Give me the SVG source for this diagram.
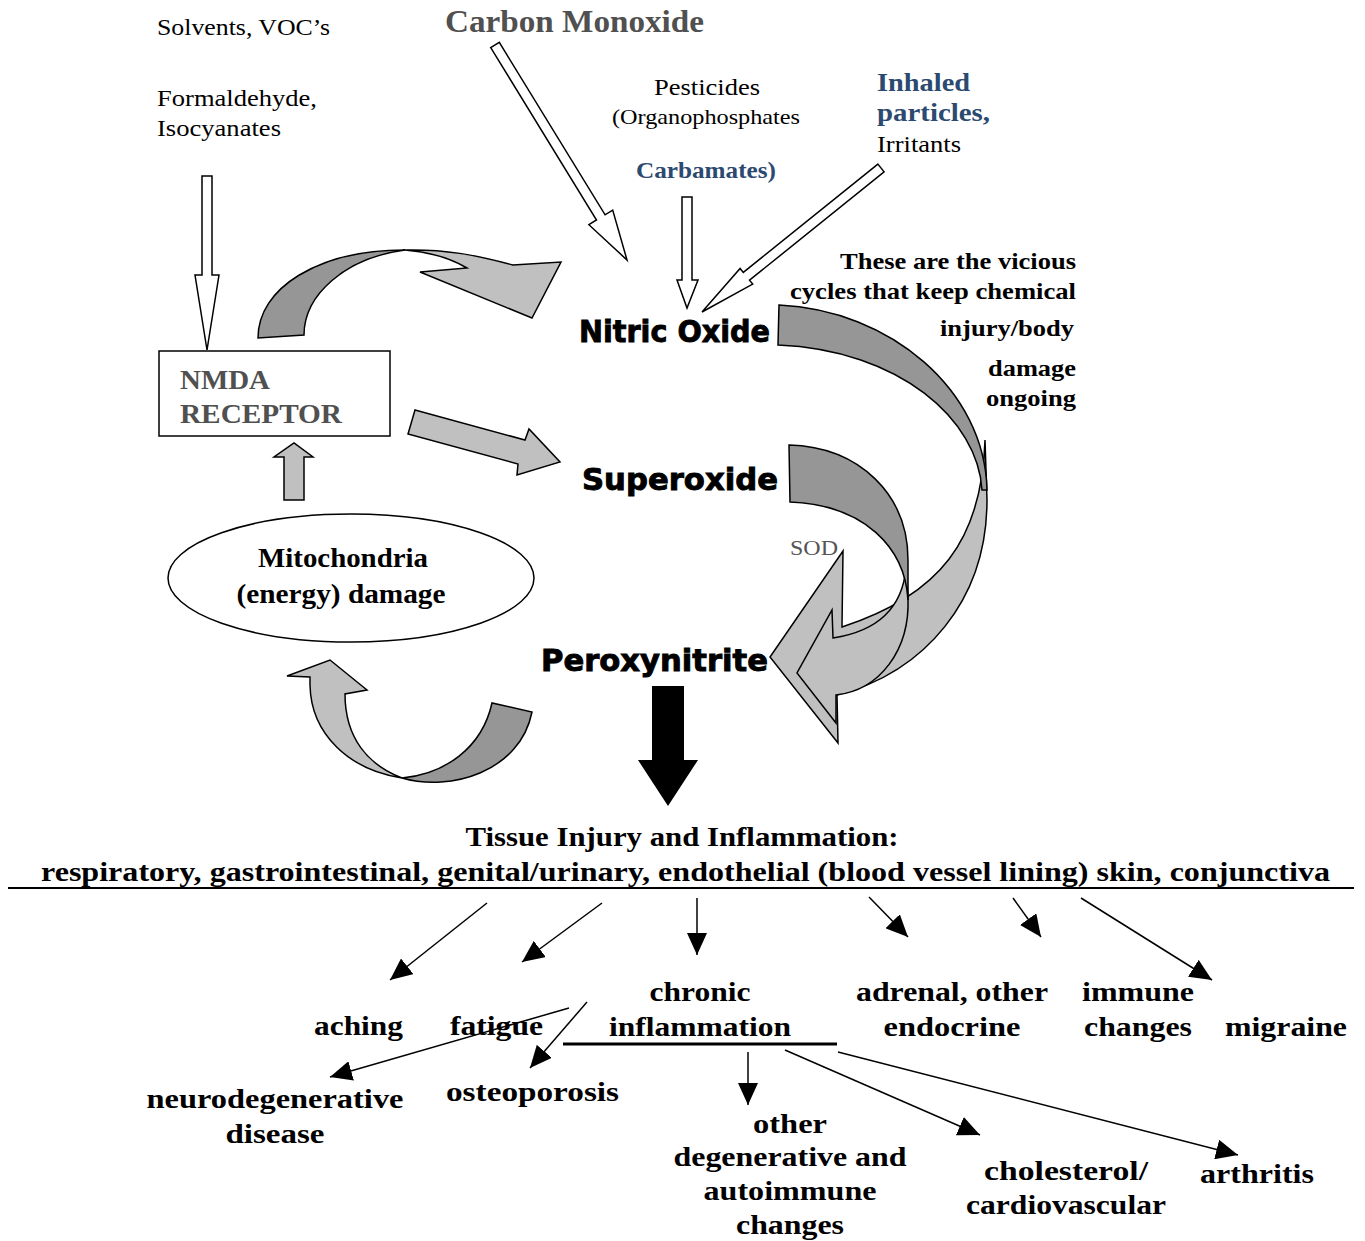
<svg xmlns="http://www.w3.org/2000/svg" width="1365" height="1241" viewBox="0 0 1365 1241">
<style>
.s{font-family:"Liberation Serif",serif;fill:#000}
.b{font-weight:bold}
.h{font-family:"DejaVu Sans",sans-serif;font-weight:bold;font-size:30px;fill:#000;stroke:#000;stroke-width:0.9}
.bt{font-family:"Liberation Serif",serif;font-weight:bold;font-size:28px;fill:#000}
.blue{fill:#2c4a70}
.gr{fill:#505050}
.dk{fill:#969696;stroke:#000;stroke-width:1.5;stroke-linejoin:miter}
.lt{fill:#c0c0c0;stroke:#000;stroke-width:1.5;stroke-linejoin:miter}
.ho{fill:#fff;stroke:#000;stroke-width:1.5}
.ln{stroke:#000;stroke-width:1.5;fill:none;marker-end:url(#ah)}
</style>
<defs>
<marker id="ah" viewBox="0 0 22 20" refX="22" refY="10" markerWidth="22" markerHeight="20" orient="auto" markerUnits="userSpaceOnUse"><path d="M0,0 L22,10 L0,20 Z" fill="#000"/></marker>
</defs>
<rect width="1365" height="1241" fill="#fff"/>

<g id="sources">
<text class="s" x="157" y="35" font-size="23" textLength="173" lengthAdjust="spacingAndGlyphs">Solvents, VOC’s</text>
<text class="s" x="157" y="106" font-size="23" textLength="160" lengthAdjust="spacingAndGlyphs">Formaldehyde,</text>
<text class="s" x="157" y="136" font-size="23" textLength="124" lengthAdjust="spacingAndGlyphs">Isocyanates</text>
<text class="s b gr" x="445" y="32" font-size="31" textLength="259" lengthAdjust="spacingAndGlyphs">Carbon Monoxide</text>
<text class="s" x="654" y="95" font-size="23" textLength="106" lengthAdjust="spacingAndGlyphs">Pesticides</text>
<text class="s" x="612" y="124" font-size="21" textLength="188" lengthAdjust="spacingAndGlyphs">(Organophosphates</text>
<text class="s b blue" x="636" y="178" font-size="23" textLength="140" lengthAdjust="spacingAndGlyphs">Carbamates)</text>
<text class="s b blue" x="877" y="91" font-size="25" textLength="93" lengthAdjust="spacingAndGlyphs">Inhaled</text>
<text class="s b blue" x="877" y="121" font-size="25" textLength="113" lengthAdjust="spacingAndGlyphs">particles,</text>
<text class="s" x="877" y="152" font-size="23" textLength="84" lengthAdjust="spacingAndGlyphs">Irritants</text>
</g>

<g id="note">
<text class="s b" x="1076" y="269" font-size="23" text-anchor="end" textLength="236" lengthAdjust="spacingAndGlyphs">These are the vicious</text>
<text class="s b" x="1076" y="299" font-size="23" text-anchor="end" textLength="286" lengthAdjust="spacingAndGlyphs">cycles that keep chemical</text>
<text class="s b" x="1074" y="336" font-size="23" text-anchor="end" textLength="134" lengthAdjust="spacingAndGlyphs">injury/body</text>
<text class="s b" x="1076" y="376" font-size="23" text-anchor="end" textLength="88" lengthAdjust="spacingAndGlyphs">damage</text>
<text class="s b" x="1076" y="406" font-size="23" text-anchor="end" textLength="90" lengthAdjust="spacingAndGlyphs">ongoing</text>
</g>

<g id="nmda">
<rect x="159" y="351" width="231" height="85" fill="#fff" stroke="#000" stroke-width="1.5"/>
<text class="s b gr" x="180" y="389" font-size="28" textLength="90" lengthAdjust="spacingAndGlyphs">NMDA</text>
<text class="s b gr" x="180" y="423" font-size="28" textLength="162" lengthAdjust="spacingAndGlyphs">RECEPTOR</text>
</g>

<g id="mitochondria">
<ellipse cx="351" cy="578" rx="183" ry="64" fill="#fff" stroke="#000" stroke-width="1.5"/>
<text class="s b" x="343" y="567" font-size="27" text-anchor="middle" textLength="170" lengthAdjust="spacingAndGlyphs">Mitochondria</text>
<text class="s b" x="341" y="603" font-size="27" text-anchor="middle" textLength="209" lengthAdjust="spacingAndGlyphs">(energy) damage</text>
</g>

<g id="nitric-oxide"><text class="h" x="579" y="342" textLength="191" lengthAdjust="spacingAndGlyphs">Nitric Oxide</text></g>
<g id="superoxide"><text class="h" x="582" y="490" font-size="31" textLength="196" lengthAdjust="spacingAndGlyphs">Superoxide</text></g>
<g id="peroxynitrite"><text class="h" x="541" y="671" font-size="31" textLength="227" lengthAdjust="spacingAndGlyphs">Peroxynitrite</text></g>
<g id="sod"><text class="s" x="790" y="555" font-size="21" style="fill:#555" textLength="48" lengthAdjust="spacingAndGlyphs">SOD</text></g>

<g id="connectors">
<polygon class="ho" points="202,176 212,176 212,275 219,275 207,350 195,275 202,275"/>
<polygon class="ho" points="490.7,47.6 499.3,42.4 605.1,214.8 612.7,210.1 627,260 588.9,224.7 596.5,220"/>
<polygon class="ho" points="682,197 692,197 692,280 698,280 687,308 677,280 682,280"/>
<polygon class="ho" points="877.9,164.1 884.1,171.9 749.5,280.2 752.7,284.1 702,312 740.1,268.5 743.3,272.4"/>

<path class="lt" d="M405,250 C445,249 475,255 513,265 L561,262 L532,318 L420,272 L467,268 C450,258 430,252 405,250 Z"/>
<path class="dk" d="M258,338 C258,288 318,250 405,250 C345,258 304,295 304,335 Z"/>

<polygon class="lt" points="415,410 525,440 529,429 560,462 517,475 518,464 408,434"/>

<polygon class="lt" points="284,500 284,457 274,457 294,443 313,457 304,457 304,500"/>

<path class="lt" d="M985,440 C982,540 940,595 842,627 L843,551 L770,657 L838,743 L837,695 C925,672 987,600 987,500 Z"/>
<path class="dk" d="M779,305 C890,310 985,390 987,490 L982,490 C978,420 900,350 778,345 Z"/>

<path class="lt" d="M906,568 C902,612 872,632 833,638 L832,610 L797,673 L836,723 L836,695 C880,690 910,650 908,598 Z"/>
<path class="dk" d="M789,445 C860,447 908,495 908,560 L908,600 C905,548 865,505 790,502 Z"/>

<path class="lt" d="M402,778 C350,770 311,735 310,685 L310,677 L287,676 L330,660 L367,690 L345,694 C345,738 368,765 402,778 Z"/>
<path class="dk" d="M492,703 C482,748 445,774 402,778 C450,792 520,772 532,712 Z"/>

<polygon points="652,686 684,686 684,760 698,760 668,806 638,760 652,760" fill="#000"/>

<line x1="8" y1="888" x2="1354" y2="888" stroke="#000" stroke-width="2"/>
<line x1="563" y1="1044" x2="837" y2="1044" stroke="#000" stroke-width="3"/>
<line class="ln" x1="487" y1="903" x2="390" y2="980"/>
<line class="ln" x1="602" y1="903" x2="522" y2="962"/>
<line class="ln" x1="697" y1="898" x2="697" y2="955"/>
<line class="ln" x1="869" y1="897" x2="908" y2="937"/>
<line class="ln" x1="1013" y1="898" x2="1041" y2="937"/>
<line class="ln" x1="1081" y1="898" x2="1212" y2="980"/>
<line class="ln" x1="569" y1="1008" x2="330" y2="1077"/>
<line class="ln" x1="587" y1="1002" x2="530" y2="1068"/>
<line class="ln" x1="748" y1="1052" x2="748" y2="1105"/>
<line class="ln" x1="785" y1="1050" x2="980" y2="1135"/>
<line class="ln" x1="838" y1="1052" x2="1238" y2="1155"/>
</g>

<g id="tissue">
<text class="bt" x="682" y="846" text-anchor="middle" textLength="433" lengthAdjust="spacingAndGlyphs">Tissue Injury and Inflammation:</text>
<text class="bt" x="41" y="881" textLength="1289" lengthAdjust="spacingAndGlyphs">respiratory, gastrointestinal, genital/urinary, endothelial (blood vessel lining) skin, conjunctiva</text>
</g>
<g id="aching"><text class="bt" x="314" y="1035" textLength="89" lengthAdjust="spacingAndGlyphs">aching</text></g>
<g id="fatigue"><text class="bt" x="450" y="1035" textLength="93" lengthAdjust="spacingAndGlyphs">fatigue</text></g>
<g id="chronic">
<text class="bt" x="700" y="1001" text-anchor="middle" textLength="101" lengthAdjust="spacingAndGlyphs">chronic</text>
<text class="bt" x="700" y="1036" text-anchor="middle" textLength="182" lengthAdjust="spacingAndGlyphs">inflammation</text>
</g>
<g id="adrenal">
<text class="bt" x="952" y="1001" text-anchor="middle" textLength="192" lengthAdjust="spacingAndGlyphs">adrenal, other</text>
<text class="bt" x="952" y="1036" text-anchor="middle" textLength="137" lengthAdjust="spacingAndGlyphs">endocrine</text>
</g>
<g id="immune">
<text class="bt" x="1138" y="1001" text-anchor="middle" textLength="112" lengthAdjust="spacingAndGlyphs">immune</text>
<text class="bt" x="1138" y="1036" text-anchor="middle" textLength="108" lengthAdjust="spacingAndGlyphs">changes</text>
</g>
<g id="migraine"><text class="bt" x="1225" y="1036" textLength="122" lengthAdjust="spacingAndGlyphs">migraine</text></g>
<g id="neuro">
<text class="bt" x="275" y="1108" text-anchor="middle" textLength="257" lengthAdjust="spacingAndGlyphs">neurodegenerative</text>
<text class="bt" x="275" y="1143" text-anchor="middle" textLength="99" lengthAdjust="spacingAndGlyphs">disease</text>
</g>
<g id="osteo"><text class="bt" x="446" y="1101" textLength="173" lengthAdjust="spacingAndGlyphs">osteoporosis</text></g>
<g id="other">
<text class="bt" x="790" y="1133" text-anchor="middle" textLength="74" lengthAdjust="spacingAndGlyphs">other</text>
<text class="bt" x="790" y="1166" text-anchor="middle" textLength="233" lengthAdjust="spacingAndGlyphs">degenerative and</text>
<text class="bt" x="790" y="1200" text-anchor="middle" textLength="173" lengthAdjust="spacingAndGlyphs">autoimmune</text>
<text class="bt" x="790" y="1234" text-anchor="middle" textLength="108" lengthAdjust="spacingAndGlyphs">changes</text>
</g>
<g id="cholesterol">
<text class="bt" x="1066" y="1180" text-anchor="middle" textLength="164" lengthAdjust="spacingAndGlyphs">cholesterol/</text>
<text class="bt" x="1066" y="1214" text-anchor="middle" textLength="200" lengthAdjust="spacingAndGlyphs">cardiovascular</text>
</g>
<g id="arthritis"><text class="bt" x="1200" y="1183" textLength="114" lengthAdjust="spacingAndGlyphs">arthritis</text></g>
</svg>
